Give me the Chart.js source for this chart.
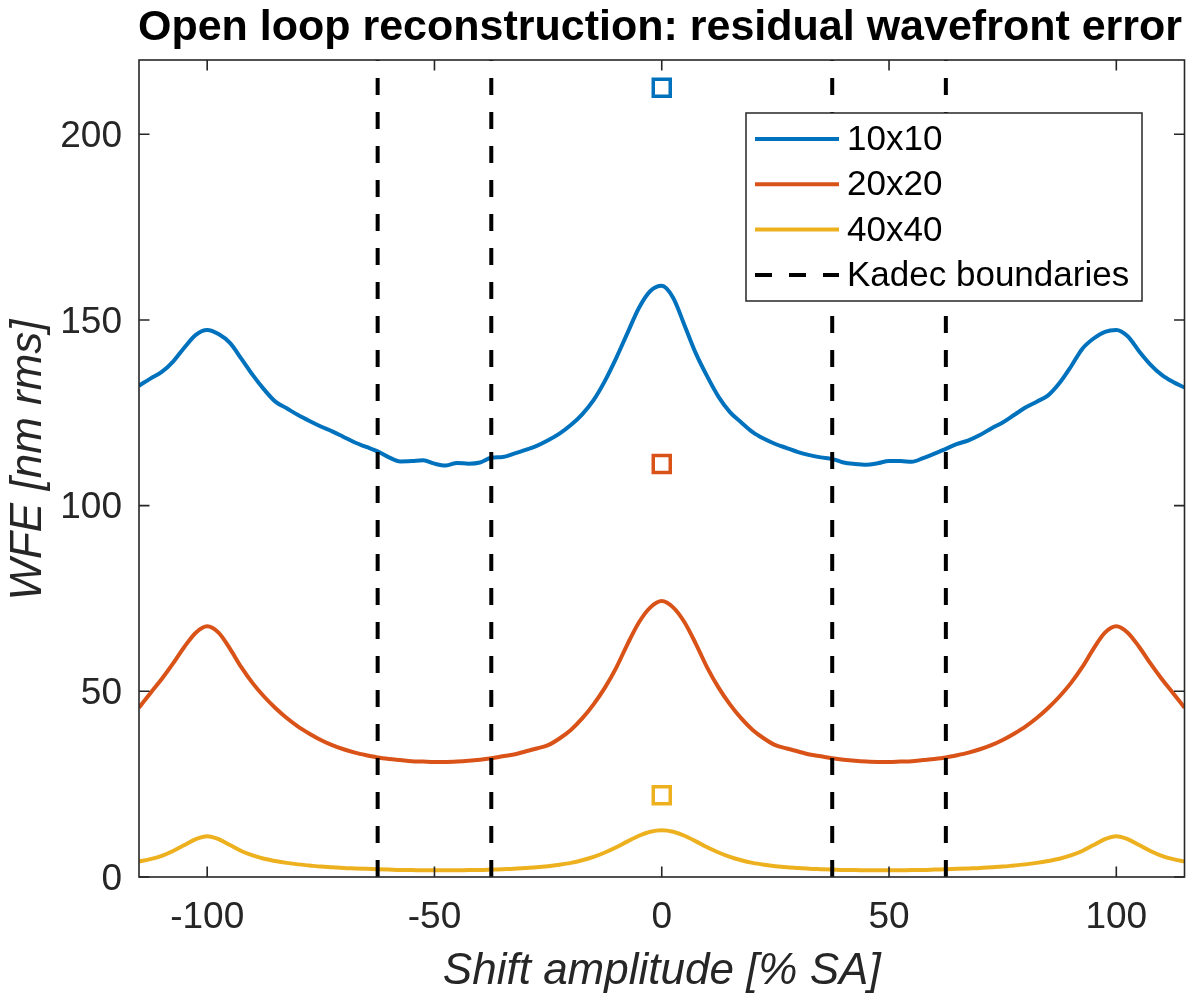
<!DOCTYPE html>
<html>
<head>
<meta charset="utf-8">
<title>Open loop reconstruction: residual wavefront error</title>
<script src="https://cdn.jsdelivr.net/npm/chart.js@4.4.1/dist/chart.umd.min.js"></script>
<style>
  html, body { margin: 0; padding: 0; background: #fff; }
  #wrap { width: 1200px; height: 1008px; }
</style>
</head>
<body>
<div id="wrap"><canvas id="wfeChart" width="1200" height="1008"></canvas></div>
<script>
// shift amplitude [% SA]
var shiftAmp = [
  -115, -112.5, -110, -107.5, -105, -102.5, -100, -97.5, -95, -92.5,
  -90, -87.5, -85, -82.5, -80, -77.5, -75, -72.5, -70, -67.5,
  -65, -62.5, -60, -57.5, -55, -52.5, -50, -47.5, -45, -42.5,
  -40, -37.5, -35, -32.5, -30, -27.5, -25, -22.5, -20, -17.5,
  -15, -12.5, -10, -7.5, -5, -2.5, 0, 2.5, 5, 7.5,
  10, 12.5, 15, 17.5, 20, 22.5, 25, 27.5, 30, 32.5,
  35, 37.5, 40, 42.5, 45, 47.5, 50, 52.5, 55, 57.5,
  60, 62.5, 65, 67.5, 70, 72.5, 75, 77.5, 80, 82.5,
  85, 87.5, 90, 92.5, 95, 97.5, 100, 102.5, 105, 107.5,
  110, 112.5, 115
];

// WFE [nm rms] per sub-aperture grid
var wfe10 = [
  132.3, 134.2, 136.0, 138.8, 142.6, 146.0, 147.3, 146.2, 143.8, 139.6,
  135.2, 131.3, 128.0, 126.2, 124.4, 122.8, 121.3, 120.0, 118.5, 117.0,
  115.8, 114.6, 113.0, 111.9, 112.0, 112.2, 111.3, 110.8, 111.5, 111.3,
  111.6, 112.9, 113.1, 114.0, 115.0, 116.1, 117.6, 119.4, 121.7, 124.6,
  128.4, 133.6, 139.8, 146.6, 153.3, 157.8, 159.2, 156.0, 148.6, 141.0,
  134.8, 129.3, 125.2, 122.4, 119.8, 118.0, 116.6, 115.5, 114.4, 113.6,
  113.0, 112.6, 111.6, 111.2, 111.0, 111.4, 112.0, 112.0, 111.8, 112.8,
  114.0, 115.3, 116.6, 117.6, 119.0, 120.8, 122.4, 124.4, 126.4, 128.0,
  129.7, 133.0, 137.4, 142.2, 145.0, 146.8, 147.3, 145.6, 141.6, 138.0,
  135.2, 133.3, 131.8
];
var wfe20 = [
  45.6, 49.5, 53.3, 57.5, 62.0, 65.8, 67.5, 65.8, 61.5, 56.5,
  52.2, 48.6, 45.5, 42.8, 40.5, 38.6, 36.9, 35.5, 34.4, 33.5,
  32.8, 32.2, 31.8, 31.5, 31.2, 31.1, 31.0, 31.0, 31.1, 31.3,
  31.6, 32.0, 32.5, 33.0, 33.8, 34.6, 35.5, 37.3, 39.6, 42.7,
  46.5, 51.0, 56.4, 62.8, 68.6, 72.6, 74.3, 72.6, 68.6, 62.8,
  56.4, 51.0, 46.5, 42.7, 39.6, 37.3, 35.5, 34.6, 33.8, 33.0,
  32.5, 32.0, 31.6, 31.3, 31.1, 31.0, 31.0, 31.1, 31.2, 31.5,
  31.8, 32.2, 32.8, 33.5, 34.4, 35.5, 36.9, 38.6, 40.5, 42.8,
  45.5, 48.6, 52.2, 56.5, 61.5, 65.8, 67.5, 65.8, 62.0, 57.5,
  53.3, 49.5, 45.6
];
var wfe40 = [
  4.2, 4.8, 5.7, 7.0, 8.6, 10.2, 11.0, 10.2, 8.6, 7.0,
  5.8, 4.9, 4.3, 3.8, 3.4, 3.1, 2.8, 2.6, 2.4, 2.3,
  2.2, 2.1, 2.0, 1.9, 1.9, 1.8, 1.8, 1.8, 1.8, 1.9,
  1.9, 2.0, 2.1, 2.2, 2.4, 2.6, 2.9, 3.3, 3.8, 4.5,
  5.4, 6.6, 8.0, 9.6, 11.1, 12.2, 12.6, 12.2, 11.1, 9.6,
  8.0, 6.6, 5.4, 4.5, 3.8, 3.3, 2.9, 2.6, 2.4, 2.2,
  2.1, 2.0, 1.9, 1.9, 1.8, 1.8, 1.8, 1.8, 1.9, 1.9,
  2.0, 2.1, 2.2, 2.3, 2.4, 2.6, 2.8, 3.1, 3.4, 3.8,
  4.3, 4.9, 5.8, 7.0, 8.6, 10.2, 11.0, 10.2, 8.6, 7.0,
  5.7, 4.8, 4.2
];

// open squares at zero shift (10x10, 20x20, 40x40)
var zeroShiftWfe = [212.5, 111.2, 22.0];
var kadecBounds = [-62.5, -37.5, 37.5, 62.5];

var seriesLabels = ['10x10', '20x20', '40x40'];
var kadecLabel = 'Kadec boundaries';
var xTicks = [-100, -50, 0, 50, 100];
var yTicks = [0, 50, 100, 150, 200];
var xMin = -115, xMax = 115, yMin = 0, yMax = 220;

var colors = ['#0072BD', '#D95319', '#EDB120'];
var axisColor = '#262626';
var fontFam = "'Liberation Sans', Arial, Helvetica, sans-serif";

function toPoints(ys) {
  return shiftAmp.map(function (x, i) { return { x: x, y: ys[i] }; });
}

var kadecPts = [];
kadecBounds.forEach(function (b) {
  kadecPts.push({ x: b, y: yMin }, { x: b, y: yMax }, { x: b, y: null });
});

var datasets = [wfe10, wfe20, wfe40].map(function (ys, i) {
  return {
    label: seriesLabels[i],
    data: toPoints(ys),
    showLine: true,
    borderColor: colors[i],
    borderWidth: 4,
    cubicInterpolationMode: 'monotone',
    pointRadius: 0,
    fill: false,
    clip: 0,
    order: 2
  };
});
datasets.push({
  label: kadecLabel,
  data: kadecPts,
  showLine: true,
  spanGaps: false,
  borderColor: '#000',
  borderWidth: 4,
  borderDash: [17, 17],
  pointRadius: 0,
  clip: 0,
  order: 1
});
datasets.push({
  data: zeroShiftWfe.map(function (v) { return { x: 0, y: v }; }),
  showLine: false,
  pointStyle: 'rect',
  pointRadius: 12,
  pointBorderWidth: 3.5,
  pointBorderColor: colors,
  pointBackgroundColor: 'rgba(0,0,0,0)',
  order: 0
});

// MATLAB-ish box, inner ticks, legend and titles
var matlabAxes = {
  id: 'matlabAxes',
  afterDatasetsDraw: function (chart) {
    var ctx = chart.ctx, a = chart.chartArea;
    var xs = chart.scales.x, ys = chart.scales.y;
    var tl = 10.5;
    ctx.save();
    ctx.strokeStyle = axisColor;
    ctx.lineWidth = 1.6;
    ctx.beginPath();
    xTicks.forEach(function (v) {
      var p = xs.getPixelForValue(v);
      ctx.moveTo(p, a.bottom); ctx.lineTo(p, a.bottom - tl);
      ctx.moveTo(p, a.top); ctx.lineTo(p, a.top + tl);
    });
    yTicks.forEach(function (v) {
      var p = ys.getPixelForValue(v);
      ctx.moveTo(a.left, p); ctx.lineTo(a.left + tl, p);
      ctx.moveTo(a.right, p); ctx.lineTo(a.right - tl, p);
    });
    ctx.stroke();
    ctx.strokeRect(a.left, a.top, a.right - a.left, a.bottom - a.top);
    ctx.restore();
  },
  afterDraw: function (chart) {
    var ctx = chart.ctx, a = chart.chartArea;
    ctx.save();

    // legend box
    var lx = a.left + 607, ly = a.top + 53, lw = 396, lh = 188;
    ctx.fillStyle = '#fff';
    ctx.fillRect(lx, ly, lw, lh);
    ctx.strokeStyle = axisColor;
    ctx.lineWidth = 1.5;
    ctx.strokeRect(lx, ly, lw, lh);
    ctx.font = '35px ' + fontFam;
    ctx.textBaseline = 'middle';
    ctx.textAlign = 'left';
    chart.data.datasets.forEach(function (ds, i) {
      if (!ds.label) return;
      var ry = ly + 26 + i * 45.3;
      ctx.save();
      ctx.strokeStyle = ds.borderColor;
      ctx.lineWidth = ds.borderWidth;
      ctx.setLineDash(ds.borderDash || []);
      ctx.beginPath();
      ctx.moveTo(lx + 9, ry);
      ctx.lineTo(lx + 93, ry);
      ctx.stroke();
      ctx.restore();
      ctx.fillStyle = '#000';
      ctx.fillText(ds.label, lx + 101, ry + 1.5);
    });

    // title
    ctx.fillStyle = '#000';
    ctx.textAlign = 'center';
    ctx.textBaseline = 'alphabetic';
    ctx.font = 'bold 43px ' + fontFam;
    ctx.fillText('Open loop reconstruction: residual wavefront error', 660, 40);

    // axis titles
    ctx.fillStyle = axisColor;
    ctx.font = 'italic 44px ' + fontFam;
    ctx.fillText('Shift amplitude [% SA]', (a.left + a.right) / 2, 984);
    ctx.translate(40.5, 460);
    ctx.rotate(-Math.PI / 2);
    ctx.fillText('WFE [nm rms]', 0, 0);
    ctx.restore();
  }
};

new Chart(document.getElementById('wfeChart'), {
  type: 'scatter',
  data: { datasets: datasets },
  options: {
    responsive: false,
    devicePixelRatio: 1,
    animation: false,
    events: [],
    layout: { padding: { top: 60, right: 12, bottom: 0, left: 0 } },
    plugins: {
      legend: { display: false },
      tooltip: { enabled: false },
      title: { display: false }
    },
    scales: {
      x: {
        type: 'linear',
        min: xMin,
        max: xMax,
        grid: { display: false, drawTicks: false },
        border: { display: false },
        afterBuildTicks: function (s) { s.ticks = xTicks.map(function (v) { return { value: v }; }); },
        afterFit: function (s) { s.height = 131; s.paddingLeft = 0; s.paddingRight = 0; },
        ticks: {
          padding: 19,
          color: axisColor,
          font: { family: fontFam, size: 37 },
          callback: function (v) { return String(v); }
        }
      },
      y: {
        type: 'linear',
        min: yMin,
        max: yMax,
        grid: { display: false, drawTicks: false },
        border: { display: false },
        afterBuildTicks: function (s) { s.ticks = yTicks.map(function (v) { return { value: v }; }); },
        afterFit: function (s) { s.width = 139; s.paddingTop = 0; s.paddingBottom = 0; },
        ticks: {
          padding: 17,
          labelOffset: 2.5,
          color: axisColor,
          font: { family: fontFam, size: 37 },
          callback: function (v) { return String(v); }
        }
      }
    }
  },
  plugins: [matlabAxes]
});
</script>
</body>
</html>
